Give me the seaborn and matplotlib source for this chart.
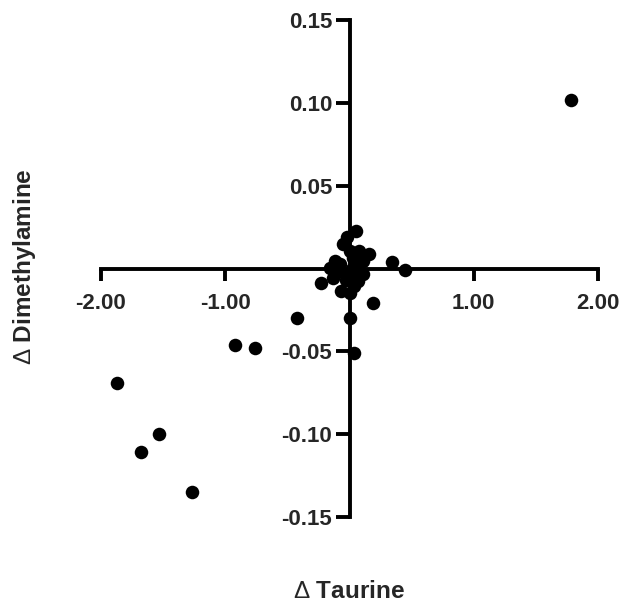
import matplotlib
matplotlib.use("Agg")
import matplotlib.pyplot as plt
import seaborn as sns
import pandas as pd

# Change in taurine vs change in dimethylamine, one point per subject
delta_taurine = [
    1.78, -1.87, -1.53, -1.68, -1.27, -0.92, -0.76, -0.42, 0.04, 0.00,
    0.19, -0.23, 0.45, 0.34,
    0.05, -0.05, -0.02, 0.16, 0.08, 0.00, -0.12, -0.16, -0.13, -0.07,
    0.04, 0.07, 0.11, 0.00, 0.03, 0.11, -0.05, 0.02, -0.08, -0.03,
    0.05, -0.10, 0.00,
]
delta_dimethylamine = [
    0.102, -0.069, -0.100, -0.111, -0.135, -0.046, -0.048, -0.030, -0.051, -0.030,
    -0.021, -0.009, -0.001, 0.004,
    0.0226, 0.015, 0.019, 0.009, 0.0107, 0.0107, 0.0046, 0.0006, -0.0055, -0.0136,
    -0.0106, -0.0075, -0.0035, -0.015, 0.0065, 0.0046, -0.002, 0.000, 0.003, -0.007,
    0.002, -0.002, -0.004,
]

x_ticks = [-2.0, -1.0, 1.0, 2.0]
y_ticks = [0.15, 0.10, 0.05, -0.05, -0.10, -0.15]

df = pd.DataFrame({"taurine": delta_taurine, "dimethylamine": delta_dimethylamine})

sns.set_style("white")
plt.rcParams["font.family"] = ["Liberation Sans", "DejaVu Sans"]
plt.rcParams["mathtext.fontset"] = "custom"
plt.rcParams["mathtext.rm"] = "Liberation Sans"
plt.rcParams["mathtext.default"] = "rm"

fig = plt.figure(figsize=(6.30, 6.07), dpi=100)
ax = fig.add_axes([101 / 630, 1 - 517 / 607, 497 / 630, 497 / 607])

sns.scatterplot(data=df, x="taurine", y="dimethylamine", ax=ax,
                color="black", s=95, edgecolor="black", linewidth=0,
                clip_on=False, zorder=3)

ax.set_xlim(-2, 2)
ax.set_ylim(-0.15, 0.15)

for side in ("top", "right"):
    ax.spines[side].set_visible(False)
ax.spines["left"].set_position("zero")
ax.spines["bottom"].set_position("zero")
for side in ("left", "bottom"):
    ax.spines[side].set_linewidth(2.8)
    ax.spines[side].set_color("black")
    ax.spines[side].set_capstyle("projecting")

ax.set_xticks(x_ticks)
ax.set_xticklabels([f"{v:.2f}" for v in x_ticks])
ax.set_yticks(y_ticks)
ax.set_yticklabels([f"{v:.2f}" for v in y_ticks])
ax.tick_params(axis="both", which="major", bottom=True, left=True,
               direction="out", width=2.8, color="black", labelsize=16)
ax.tick_params(axis="x", length=8.5, pad=9)
ax.tick_params(axis="y", length=10, pad=2.5)
for lbl in ax.get_xticklabels() + ax.get_yticklabels():
    lbl.set_fontweight("bold")

ax.set_xlabel("")
ax.set_ylabel("")
fig.text(349 / 630, 1 - 591 / 607, r"$\Delta$ Taurine", ha="center", va="center",
         fontsize=17.5, fontweight="bold")
fig.text(25 / 630, 1 - 267 / 607, r"$\Delta$ Dimethylamine", ha="center", va="center",
         rotation=90, fontsize=17.5, fontweight="bold")

fig.savefig("out.png", dpi=100, facecolor="white")
